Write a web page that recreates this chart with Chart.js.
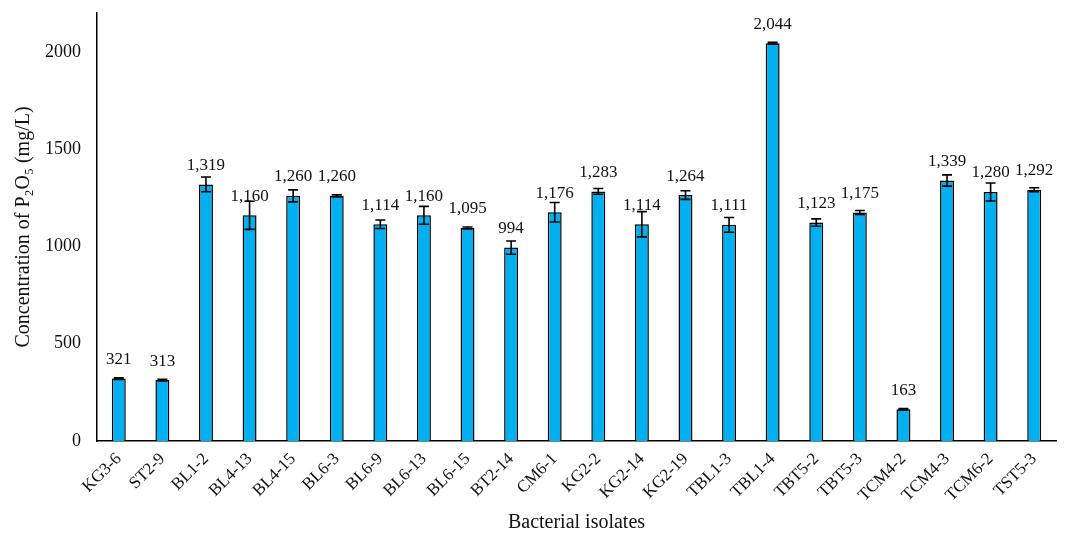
<!DOCTYPE html>
<html>
<head>
<meta charset="utf-8">
<script src="https://cdn.jsdelivr.net/npm/chart.js@4/dist/chart.umd.min.js"></script>
<style>
  html, body { margin: 0; padding: 0; background: #fff; }
  #wrap { width: 1065px; height: 539px; }
</style>
</head>
<body>
<div id="wrap"><canvas id="barChart" width="1065" height="539"></canvas></div>
<script>
// isolates and P2O5 concentration (mg/L) with standard errors
const isolates = ['KG3-6', 'ST2-9', 'BL1-2', 'BL4-13', 'BL4-15', 'BL6-3', 'BL6-9', 'BL6-13', 'BL6-15', 'BT2-14',
  'CM6-1', 'KG2-2', 'KG2-14', 'KG2-19', 'TBL1-3', 'TBL1-4', 'TBT5-2', 'TBT5-3', 'TCM4-2', 'TCM4-3', 'TCM6-2', 'TST5-3'];
const concentration = [321, 313, 1319, 1160, 1260, 1260, 1114, 1160, 1095, 994,
  1176, 1283, 1114, 1264, 1111, 2044, 1123, 1175, 163, 1339, 1280, 1292];
const errors = [4, 4, 38, 72, 31, 5, 22, 46, 5, 34,
  50, 15, 65, 22, 38, 5, 19, 10, 4, 29, 46, 10];
const yTicks = [0, 500, 1000, 1500, 2000];

const serif = "'Liberation Serif', 'Times New Roman', serif";

// error bars and value labels drawn through the y scale
const errorBarPlugin = {
  id: 'errorBars',
  afterDatasetsDraw(chart) {
    const ctx = chart.ctx;
    const yScale = chart.scales.y;
    const meta = chart.getDatasetMeta(0);
    ctx.save();
    ctx.strokeStyle = '#000';
    ctx.lineWidth = 1.6;
    meta.data.forEach((bar, i) => {
      const v = concentration[i];
      const e = errors[i];
      const x = bar.x;
      const yTop = yScale.getPixelForValue(v + e);
      const yBot = yScale.getPixelForValue(v - e);
      ctx.beginPath();
      ctx.moveTo(x, yTop); ctx.lineTo(x, yBot);
      ctx.moveTo(x - 5, yTop); ctx.lineTo(x + 5, yTop);
      ctx.moveTo(x - 5, yBot); ctx.lineTo(x + 5, yBot);
      ctx.stroke();
    });
    ctx.fillStyle = '#111';
    ctx.font = '17px ' + serif;
    ctx.textAlign = 'center';
    ctx.textBaseline = 'middle';
    meta.data.forEach((bar, i) => {
      const y = yScale.getPixelForValue(concentration[i]) - 19;
      ctx.fillText(concentration[i].toLocaleString('en-US'), bar.x, y);
    });
    ctx.restore();
  }
};

const myChart = new Chart(document.getElementById('barChart').getContext('2d'), {
  type: 'bar',
  data: {
    labels: isolates,
    datasets: [{
      data: concentration,
      backgroundColor: '#00B0F0',
      borderColor: '#000',
      borderWidth: 1.5,
      barPercentage: 0.32,
      categoryPercentage: 1
    }]
  },
  options: {
    responsive: false,
    animation: false,
    layout: { padding: { top: 13, right: 9, left: 12, bottom: 4 } },
    plugins: {
      legend: { display: false },
      tooltip: { enabled: false }
    },
    scales: {
      x: {
        grid: { display: false, drawTicks: false },
        border: { color: '#000', width: 1.5 },
        ticks: {
          color: '#111',
          font: { family: serif, size: 17 },
          minRotation: 45,
          maxRotation: 45,
          padding: 8
        },
        title: {
          display: true,
          text: 'Bacterial isolates',
          color: '#111',
          font: { family: serif, size: 20 },
          padding: { top: 2, bottom: 0 }
        },
        afterFit(scale) { scale.height = 94; scale.paddingTop = 0; }
      },
      y: {
        min: 0,
        max: 2200,
        grid: { display: false, drawTicks: false },
        border: { color: '#000', width: 1.5 },
        afterBuildTicks(scale) {
          scale.ticks = yTicks.map(v => ({ value: v }));
        },
        ticks: {
          color: '#111',
          font: { family: serif, size: 18 },
          padding: 16,
          callback: v => String(v)
        },
        title: {
          display: true,
          text: 'Concentration of P₂O₅ (mg/L)',
          color: '#111',
          font: { family: serif, size: 20 },
          padding: { top: 0, bottom: 6 }
        },
        afterFit(scale) { scale.width = 85; scale.paddingTop = 0; }
      }
    }
  },
  plugins: [errorBarPlugin]
});
</script>
</body>
</html>
